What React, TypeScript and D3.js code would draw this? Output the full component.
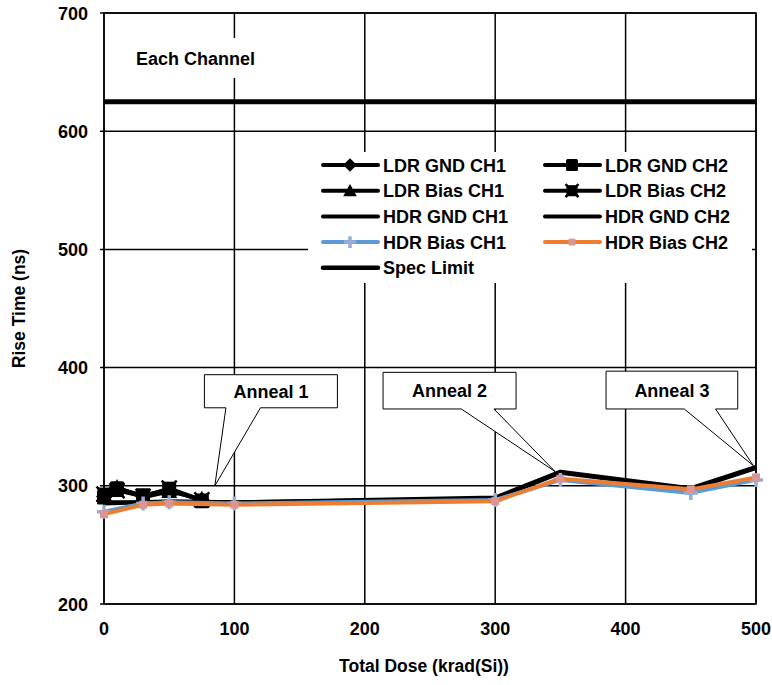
import React from "react";
import * as d3 from "d3";

const doseLDR = [0, 10, 30, 50, 75];
const ldrGndCh1 = [291, 297, 291, 296, 288];
const ldrGndCh2 = [290, 298, 292, 297, 287];
const ldrBiasCh1 = [292, 299, 290, 295, 289];
const ldrBiasCh2 = [293, 296, 291, 298, 288];
const doseHDR = [0, 30, 50, 100, 300, 350, 450, 500];
const hdrGndCh1 = [286, 286, 287, 286, 290, 312, 298, 316];
const hdrGndCh2 = [285, 286, 286, 286, 289, 311, 297, 315];
const hdrBiasCh1 = [278, 285, 286, 285, 288, 305, 294, 305];
const hdrBiasCh2 = [276, 284, 285, 284, 287, 306, 297, 307];
const specLimit = 625;
const xTicks = [0, 100, 200, 300, 400, 500];
const yTicks = [200, 300, 400, 500, 600, 700];
const legendNames = [
  "LDR GND CH1", "LDR GND CH2", "LDR Bias CH1", "LDR Bias CH2",
  "HDR GND CH1", "HDR GND CH2", "HDR Bias CH1", "HDR Bias CH2", "Spec Limit",
];
const annealLabels = ["Anneal 1", "Anneal 2", "Anneal 3"];
// callout: box [x0,x1] in dose, [yTop,yBot] in ns; wedge base in dose; tip (dose, ns)
const annealBoxes = [
  { x0: 77, x1: 179, yTop: 394, yBot: 366, b0: 93.5, b1: 120, tx: 85, ty: 300 },
  { x0: 214, x1: 316, yTop: 396, yBot: 365, b0: 274, b1: 299, tx: 346, ty: 312 },
  { x0: 385, x1: 486, yTop: 397, yBot: 365, b0: 445, b1: 469, tx: 498, ty: 317 },
];

const FONT = "'Liberation Sans', Arial, sans-serif";
const BLUE = "#5B9BD5";
const ORANGE = "#ED7D31";
const BLUE_M = "#95AED8";
const ORANGE_M = "#D99694";

const W = 772, H = 685;
const x = d3.scaleLinear().domain([0, 500]).range([104, 756]);
const y = d3.scaleLinear().domain([200, 700]).range([604, 13]);

type MarkerKind = "diamond" | "square" | "triangle" | "xsquare" | "plus" | "psquare" | "none";

function Marker({ kind, cx, cy, s = 1 }: { kind: MarkerKind; cx: number; cy: number; s?: number }) {
  if (kind === "diamond") {
    const r = 8 * s;
    return <path d={`M${cx},${cy - r}L${cx + r},${cy}L${cx},${cy + r}L${cx - r},${cy}Z`} fill="#000" />;
  }
  if (kind === "square") {
    const r = 7 * s;
    return <rect x={cx - r} y={cy - r} width={2 * r} height={2 * r} rx={1.5} fill="#000" />;
  }
  if (kind === "triangle") {
    const r = 8 * s;
    return <path d={`M${cx},${cy - r}L${cx + r},${cy + r * 0.8}L${cx - r},${cy + r * 0.8}Z`} fill="#000" />;
  }
  if (kind === "xsquare") {
    const r = 6.5 * s;
    return (
      <g>
        <rect x={cx - r} y={cy - r} width={2 * r} height={2 * r} fill="#000" />
        <path d={`M${cx - r - 1},${cy - r - 1}L${cx + r + 1},${cy + r + 1}M${cx - r - 1},${cy + r + 1}L${cx + r + 1},${cy - r - 1}`} stroke="#000" strokeWidth={2.5} />
      </g>
    );
  }
  if (kind === "plus") {
    const r = 7 * s;
    return <path d={`M${cx - r},${cy}L${cx + r},${cy}M${cx},${cy - r}L${cx},${cy + r}`} stroke={BLUE_M} strokeWidth={3.5} />;
  }
  if (kind === "psquare") {
    const r = 4 * s;
    return <rect x={cx - r} y={cy - r} width={2 * r} height={2 * r} fill={ORANGE_M} />;
  }
  return null;
}

const series = [
  { name: legendNames[0], xs: doseLDR, ys: ldrGndCh1, color: "#000", marker: "diamond" as MarkerKind, w: 3.5 },
  { name: legendNames[1], xs: doseLDR, ys: ldrGndCh2, color: "#000", marker: "square" as MarkerKind, w: 3.5 },
  { name: legendNames[2], xs: doseLDR, ys: ldrBiasCh1, color: "#000", marker: "triangle" as MarkerKind, w: 3.5 },
  { name: legendNames[3], xs: doseLDR, ys: ldrBiasCh2, color: "#000", marker: "xsquare" as MarkerKind, w: 3.5 },
  { name: legendNames[4], xs: doseHDR, ys: hdrGndCh1, color: "#000", marker: "none" as MarkerKind, w: 4 },
  { name: legendNames[5], xs: doseHDR, ys: hdrGndCh2, color: "#000", marker: "none" as MarkerKind, w: 4 },
  { name: legendNames[6], xs: doseHDR, ys: hdrBiasCh1, color: BLUE, marker: "plus" as MarkerKind, w: 4 },
  { name: legendNames[7], xs: doseHDR, ys: hdrBiasCh2, color: ORANGE, marker: "psquare" as MarkerKind, w: 4 },
];

export default function App() {
  const line = d3.line<[number, number]>().x((d) => x(d[0])).y((d) => y(d[1]));
  const legendItems = [
    ...series.map((s) => ({ name: s.name, color: s.color, marker: s.marker, w: 4 })),
    { name: legendNames[8], color: "#000", marker: "none" as MarkerKind, w: 4.5 },
  ];
  const legX = [323, 545];
  const legY0 = 165, legDy = 25.7;

  return (
    <svg width={W} height={H} style={{ position: "absolute", left: 0, top: 0, background: "#fff" }} fontFamily={FONT}>
      <rect x={0} y={0} width={W} height={H} fill="#fff" />
      {/* gridlines */}
      {xTicks.map((t) => (
        <line key={"gx" + t} x1={x(t)} x2={x(t)} y1={y(700)} y2={y(200)} stroke="#000" strokeWidth={1.5} />
      ))}
      {yTicks.map((t) => (
        <line key={"gy" + t} x1={x(0) - 4} x2={x(500)} y1={y(t)} y2={y(t)} stroke="#000" strokeWidth={1.5} />
      ))}
      <rect x={x(0)} y={y(700)} width={x(500) - x(0)} height={y(200) - y(700)} fill="none" stroke="#000" strokeWidth={1.5} />
      {/* spec limit */}
      <line x1={x(0)} x2={x(500)} y1={y(specLimit)} y2={y(specLimit)} stroke="#000" strokeWidth={5} />
      {/* Each Channel label */}
      <rect x={130} y={38} width={135} height={40} fill="#fff" />
      <text x={136} y={65} fontSize={18} fontWeight="bold">Each Channel</text>
      {/* legend */}
      <rect x={308} y={152} width={444} height={131} fill="#fff" />
      {legendItems.map((it, i) => {
        const col = i === 8 ? 0 : i % 2;
        const row = Math.floor(i / 2);
        const lx = legX[col];
        const ly = legY0 + row * legDy;
        return (
          <g key={"leg" + i}>
            <line x1={lx} x2={lx + 55} y1={ly} y2={ly} stroke={it.color} strokeWidth={it.w} strokeLinecap="round" />
            <Marker kind={it.marker} cx={lx + 27} cy={ly} s={0.85} />
            <text x={lx + 60} y={ly + 6.5} fontSize={18} fontWeight="bold">{it.name}</text>
          </g>
        );
      })}
      {/* series */}
      {series.map((s, i) => (
        <g key={"s" + i}>
          <path d={line(s.xs.map((d, j) => [d, s.ys[j]] as [number, number])) || ""} fill="none" stroke={s.color} strokeWidth={s.w} strokeLinejoin="round" />
          {s.xs.map((d, j) => (
            <Marker key={j} kind={s.marker} cx={x(d)} cy={y(s.ys[j])} />
          ))}
        </g>
      ))}
      {/* callouts */}
      {annealBoxes.map((b, i) => {
        const X0 = x(b.x0), X1 = x(b.x1), T = y(b.yTop), B = y(b.yBot);
        const p = `M${X0},${T}L${X1},${T}L${X1},${B}L${x(b.b1)},${B}L${x(b.tx)},${y(b.ty)}L${x(b.b0)},${B}L${X0},${B}Z`;
        return (
          <g key={"an" + i}>
            <path d={p} fill="#fff" stroke="#000" strokeWidth={1} strokeLinejoin="miter" />
            <text x={(X0 + X1) / 2} y={(T + B) / 2 + 6.5} fontSize={18} fontWeight="bold" textAnchor="middle">{annealLabels[i]}</text>
          </g>
        );
      })}
      {/* axis labels */}
      {xTicks.map((t) => (
        <text key={"xt" + t} x={x(t)} y={635} fontSize={18} fontWeight="bold" textAnchor="middle">{t}</text>
      ))}
      {yTicks.map((t) => (
        <text key={"yt" + t} x={88} y={y(t) + 6.5} fontSize={18} fontWeight="bold" textAnchor="end">{t}</text>
      ))}
      <text x={424} y={672} fontSize={17.5} fontWeight="bold" textAnchor="middle">Total Dose (krad(Si))</text>
      <text transform={`translate(25,${(y(200) + y(700)) / 2}) rotate(-90)`} fontSize={17.5} fontWeight="bold" textAnchor="middle">Rise Time (ns)</text>
    </svg>
  );
}
